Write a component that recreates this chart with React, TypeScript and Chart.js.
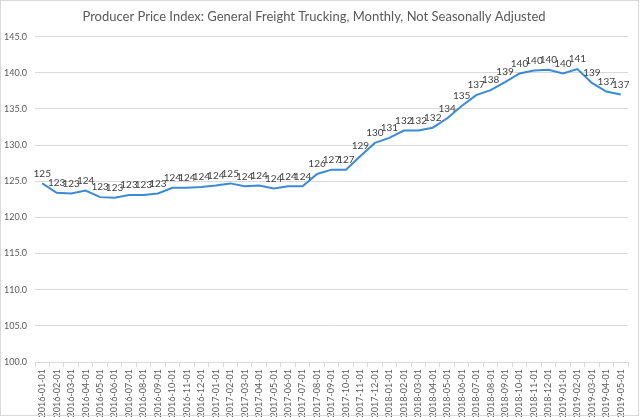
import React, { useEffect, useRef } from "react";
import { Chart, registerables } from "chart.js";

Chart.register(...registerables);

const TITLE = "Producer Price Index: General Freight Trucking, Monthly, Not Seasonally Adjusted";

const months: string[] = [
  "2016-01-01", "2016-02-01", "2016-03-01", "2016-04-01", "2016-05-01", "2016-06-01",
  "2016-07-01", "2016-08-01", "2016-09-01", "2016-10-01", "2016-11-01", "2016-12-01",
  "2017-01-01", "2017-02-01", "2017-03-01", "2017-04-01", "2017-05-01", "2017-06-01",
  "2017-07-01", "2017-08-01", "2017-09-01", "2017-10-01", "2017-11-01", "2017-12-01",
  "2018-01-01", "2018-02-01", "2018-03-01", "2018-04-01", "2018-05-01", "2018-06-01",
  "2018-07-01", "2018-08-01", "2018-09-01", "2018-10-01", "2018-11-01", "2018-12-01",
  "2019-01-01", "2019-02-01", "2019-03-01", "2019-04-01", "2019-05-01",
];

const ppiValues: number[] = [
  124.7, 123.4, 123.3, 123.7, 122.8, 122.7,
  123.1, 123.1, 123.3, 124.1, 124.1, 124.2,
  124.4, 124.7, 124.3, 124.4, 124.0, 124.3,
  124.3, 126.0, 126.6, 126.6, 128.5, 130.3,
  131.0, 132.0, 132.0, 132.4, 133.7, 135.4,
  136.9, 137.6, 138.7, 139.9, 140.3, 140.4,
  139.9, 140.5, 138.6, 137.4, 137.0,
];

const yTicks: number[] = [100, 105, 110, 115, 120, 125, 130, 135, 140, 145];

const FONT = "Lato, 'Open Sans', sans-serif";

const dataLabelPlugin = {
  id: "dataLabels",
  afterDatasetsDraw(chart: any) {
    const ctx = chart.ctx;
    const meta = chart.getDatasetMeta(0);
    const ds = chart.data.datasets[0];
    ctx.save();
    ctx.font = `10px ${FONT}`;
    ctx.fillStyle = "#404040";
    ctx.textAlign = "center";
    ctx.textBaseline = "bottom";
    meta.data.forEach((pt: any, i: number) => {
      const v = ds.data[i] as number;
      ctx.fillText(String(Math.round(v)), pt.x, pt.y - 5);
    });
    ctx.restore();
  },
};

const borderPlugin = {
  id: "outerBorder",
  afterDraw(chart: any) {
    const ctx = chart.ctx;
    ctx.save();
    ctx.strokeStyle = "#d9d9d9";
    ctx.lineWidth = 1;
    ctx.strokeRect(0.5, 0.5, chart.width - 2, chart.height - 2);
    ctx.restore();
  },
};

export default function App() {
  const ref = useRef<HTMLCanvasElement | null>(null);

  useEffect(() => {
    document.body.style.margin = "0";
    if (!ref.current) return;
    const chart = new Chart(ref.current, {
      type: "line",
      data: {
        labels: months,
        datasets: [
          {
            data: ppiValues,
            borderColor: "#3a8ad8",
            borderWidth: 2,
            pointRadius: 0,
            tension: 0,
            fill: false,
          },
        ],
      },
      options: {
        animation: false,
        responsive: false,
        maintainAspectRatio: false,
        layout: { padding: { left: 0, right: 12, top: 0, bottom: 0 } },
        plugins: {
          legend: { display: false },
          tooltip: { enabled: false },
          title: {
            display: true,
            text: TITLE,
            color: "#595959",
            font: { family: FONT, size: 13, weight: "normal" },
            padding: { top: 9, bottom: 12 },
          },
        },
        scales: {
          x: {
            offset: true,
            grid: {
              offset: true,
              drawOnChartArea: false,
              drawTicks: true,
              tickLength: 5,
              color: "#d9d9d9",
            },
            border: { display: true, color: "#d9d9d9" },
            ticks: {
              autoSkip: false,
              maxRotation: 90,
              minRotation: 90,
              color: "#595959",
              font: { family: FONT, size: 9 },
              padding: 2,
            },
            afterFit: (s: any) => {
              s.height = 55;
            },
          },
          y: {
            min: 100,
            max: 145,
            afterBuildTicks: (s: any) => {
              s.ticks = yTicks.map((v) => ({ value: v }));
            },
            grid: { color: "#d9d9d9", drawTicks: false },
            border: { display: false },
            ticks: {
              color: "#595959",
              font: { family: FONT, size: 9 },
              padding: 8,
              callback: (v: any) => Number(v).toFixed(1),
            },
            afterFit: (s: any) => {
              s.width = 35;
            },
          },
        },
      },
      plugins: [dataLabelPlugin, borderPlugin],
    });
    return () => chart.destroy();
  }, []);

  return (
    <div style={{ position: "fixed", left: 0, top: 0, width: 640, height: 417, background: "#fff" }}>
      <canvas ref={ref} width={640} height={417} style={{ width: 640, height: 417 }} />
    </div>
  );
}
